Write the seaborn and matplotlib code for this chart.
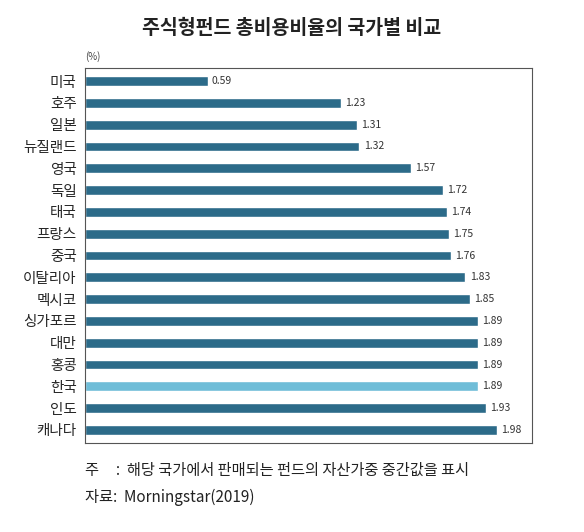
import matplotlib
matplotlib.use("Agg")
import matplotlib.pyplot as plt
import seaborn as sns
import pandas as pd

countries = ["미국","호주","일본","뉴질랜드","영국","독일","태국","프랑스","중국","이탈리아","멕시코","싱가포르","대만","홍콩","한국","인도","캐나다"]
values = [0.59,1.23,1.31,1.32,1.57,1.72,1.74,1.75,1.76,1.83,1.85,1.89,1.89,1.89,1.89,1.93,1.98]
labels = ["0.59","1.23","1.31","1.32","1.57","1.72","1.74","1.75","1.76","1.83","1.85","1.89","1.89","1.89","1.89","1.93","1.98"]

sns.set_style("white")
plt.rcParams['font.family'] = ['Noto Sans CJK KR', 'DejaVu Sans']

df = pd.DataFrame({"country": countries, "value": values})
palette = {c: ("#6fbdd8" if c == "한국" else "#2c6b89") for c in countries}

fig = plt.figure(figsize=(5.84, 5.32), dpi=100)
ax = fig.add_axes([85/584, 1-443/532, (532-85)/584, (443-68)/532])
sns.barplot(data=df, x="value", y="country", hue="country", palette=palette,
            legend=False, width=0.45, ax=ax, saturation=1)
ax.set_xlim(0, 2.15)
ax.set_ylim(16.6, -0.6)
ax.set_xlabel(""); ax.set_ylabel("")
ax.set_xticks([])
ax.tick_params(axis="y", length=0, labelsize=10.5, pad=6)
for s in ax.spines.values():
    s.set_color("#555555"); s.set_linewidth(0.8)
for i, (v, l) in enumerate(zip(values, labels)):
    ax.text(v + 0.02, i, l, va="center", ha="left", fontsize=7.5, color="#333333")

fig.text(0.5, 1-28/532, "주식형펀드 총비용비율의 국가별 비교", ha="center", va="center",
         fontsize=14, fontweight="bold", color="#222222")
fig.text(85/584, 1-57/532, "(%)", ha="left", va="center", fontsize=7, color="#444444")
fig.text(85/584, 1-470/532, "주     :  해당 국가에서 판매되는 펀드의 자산가중 중간값을 표시", ha="left",
         va="center", fontsize=11, color="#222222")
fig.text(85/584, 1-497/532, "자료:  Morningstar(2019)", ha="left", va="center", fontsize=11, color="#222222")
fig.savefig("out.png", dpi=100)
